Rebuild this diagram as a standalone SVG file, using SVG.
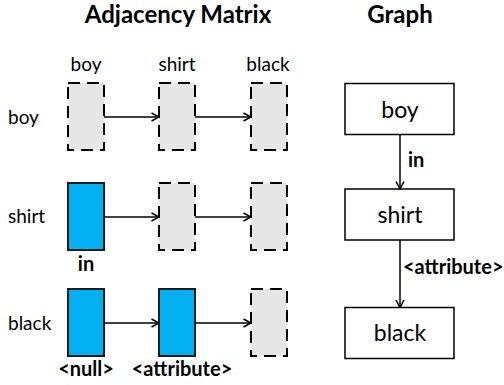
<svg xmlns="http://www.w3.org/2000/svg" width="504" height="385" viewBox="0 0 504 385">
  <style>
    text { font-family: Lato, "Open Sans", "Liberation Sans", sans-serif; fill: #000; }
    .title { font-size: 24px; font-weight: bold; text-anchor: middle; }
    .lbl { font-size: 19px; }
    .big { font-size: 23px; }
    .mid { text-anchor: middle; }
    .rel { font-size: 20px; font-weight: bold; }
    .empty { fill: #e6e6e6; stroke: #000; stroke-width: 2; stroke-dasharray: 12 7; }
    .edge { fill: #00b0f0; stroke: #1a1a1a; stroke-width: 2; }
    .node { fill: #fff; stroke: #000; stroke-width: 1.5; }
    .wire { stroke: #000; stroke-width: 1.5; fill: none; marker-end: url(#vhead); }
  </style>
  <defs>
    <marker id="vhead" viewBox="0 0 10 10" refX="9.5" refY="5" markerWidth="10" markerHeight="10" markerUnits="userSpaceOnUse" orient="auto">
      <path d="M2,1 L9.5,5 L2,9" fill="none" stroke="#000" stroke-width="1.5"/>
    </marker>
  </defs>

  <!-- headings -->
  <text class="title" x="178" y="23">Adjacency Matrix</text>
  <text class="title" x="400" y="23">Graph</text>

  <!-- column and row labels of the matrix -->
  <text class="lbl mid" x="86" y="71">boy</text>
  <text class="lbl mid" x="177" y="71">shirt</text>
  <text class="lbl mid" x="268" y="71">black</text>
  <text class="lbl" x="8" y="124">boy</text>
  <text class="lbl" x="8" y="223">shirt</text>
  <text class="lbl" x="8" y="330">black</text>

  <!-- matrix cells -->
  <g id="cell-boy-boy"><rect class="empty" x="68" y="83" width="36" height="67"/></g>
  <g id="cell-boy-shirt"><rect class="empty" x="159" y="83" width="36" height="67"/></g>
  <g id="cell-boy-black"><rect class="empty" x="251" y="83" width="36" height="67"/></g>

  <g id="cell-shirt-boy">
    <rect class="edge" x="68" y="183" width="36" height="67"/>
    <text class="rel mid" x="86" y="271">in</text>
  </g>
  <g id="cell-shirt-shirt"><rect class="empty" x="159" y="183" width="36" height="67"/></g>
  <g id="cell-shirt-black"><rect class="empty" x="251" y="183" width="36" height="67"/></g>

  <g id="cell-black-boy">
    <rect class="edge" x="68" y="289" width="36" height="67"/>
    <text class="rel mid" x="86" y="376">&lt;null&gt;</text>
  </g>
  <g id="cell-black-shirt">
    <rect class="edge" x="159" y="289" width="36" height="67"/>
    <text class="rel mid" x="182" y="376">&lt;attribute&gt;</text>
  </g>
  <g id="cell-black-black"><rect class="empty" x="251" y="289" width="36" height="67"/></g>

  <!-- graph nodes -->
  <g id="node-boy">
    <rect class="node" x="345" y="83.5" width="109" height="51"/>
    <text class="big mid" x="400" y="118">boy</text>
  </g>
  <g id="node-shirt">
    <rect class="node" x="345" y="189" width="109" height="51"/>
    <text class="big mid" x="400" y="223">shirt</text>
  </g>
  <g id="node-black">
    <rect class="node" x="345" y="307.5" width="109" height="51"/>
    <text class="big mid" x="400" y="341">black</text>
  </g>

  <!-- connectors -->
  <g id="connectors">
    <line class="wire" x1="104" y1="117" x2="159" y2="117"/>
    <line class="wire" x1="195" y1="117" x2="251" y2="117"/>
    <line class="wire" x1="104" y1="217" x2="159" y2="217"/>
    <line class="wire" x1="195" y1="217" x2="251" y2="217"/>
    <line class="wire" x1="104" y1="323" x2="159" y2="323"/>
    <line class="wire" x1="195" y1="323" x2="251" y2="323"/>
    <line class="wire" x1="400" y1="134.5" x2="400" y2="189"/>
    <line class="wire" x1="400" y1="240" x2="400" y2="307.5"/>
    <text class="rel" x="408" y="167">in</text>
    <text class="rel" x="403" y="274">&lt;attribute&gt;</text>
  </g>
</svg>
